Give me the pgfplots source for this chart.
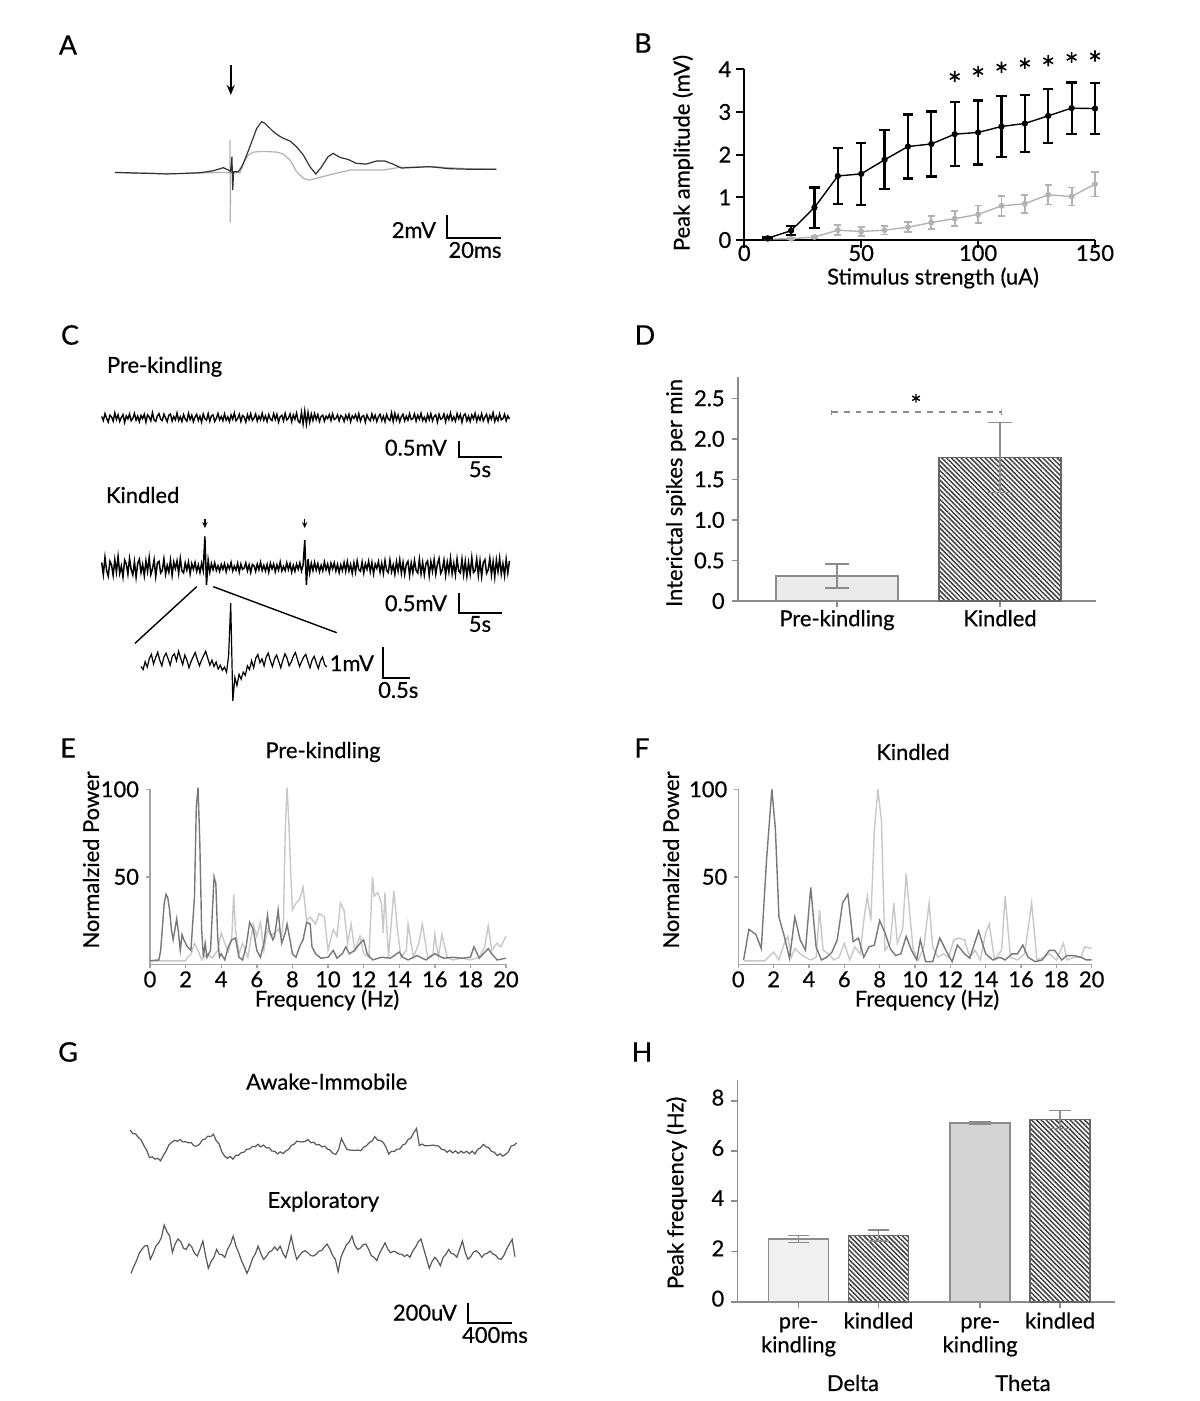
\documentclass[border=0pt]{standalone}
\usepackage{fontspec}
\setmainfont{Lato}[FakeBold=0.6]
\usepackage{pgfplots}
\pgfplotsset{compat=1.18}
\usetikzlibrary{patterns.meta,arrows.meta}
\newcommand\lab{\fontsize{11}{12}\selectfont}
\newcommand\letfont{\fontsize{13.5}{14}\selectfont}
\definecolor{specdark}{HTML}{787878}
\definecolor{speclight}{HTML}{C8C8C8}
\definecolor{axgray}{HTML}{8C8C8C}
\pgfplotsset{
  base/.style={scale only axis, anchor=south west, clip=false,
    /pgf/number format/assume math mode=true,
    tick label style={font=\lab}, enlargelimits=false},
  trace/.style={base, hide axis},
  framed/.style={base, axis x line=bottom, axis y line=left, axis line style={-}, tick align=outside},
}
\begin{document}
\begin{tikzpicture}
\useasboundingbox (0,0) rectangle (600bp,-700.5bp);

% ---------------- A ----------------
\begin{axis}[trace, at={(56.65bp,-121.3bp)}, width=194.1bp, height=64.075bp,
  xmin=-43, xmax=100, ymin=-6, ymax=5]
\addplot[gray!60, line width=0.6bp] coordinates {
(-42.4,0.0) (-30,-0.05) (-20,-0.08) (-10,-0.02) (-2,0.03) (0,0.0) (0,2.8) (0.1,-4.29) (0.2,0.0)
(3.7,0) (5.16,0.94) (6.76,1.52) (8.6,1.77) (12.3,1.83) (17.2,1.77) (19.6,1.6) (22.1,1.09)
(24.5,0.09) (27.0,-0.49) (29.4,-0.63) (33.1,-0.4) (38.0,-0.11) (44.2,0.23) (50.2,0.23)
(56.4,0.23) (62.5,0.46) (74.8,0.52) (87.1,0.34) (98.1,0.29)};
\addplot[black!80, line width=0.6bp] coordinates {
(-42.4,0.03) (-36,-0.02) (-29.5,-0.06) (-23.4,-0.11) (-17,-0.06) (-11.05,0) (-6.1,0.17)
(-2.46,0.43) (-0.6,0.23) (0.2,0.1) (0.7,1.37) (1.0,-1.49) (1.3,0.09) (3.07,0.09) (4.3,0.5)
(5.16,0.94) (6.14,1.52) (8.0,2.66) (9.82,3.8) (11.67,4.38) (12.9,4.23) (14.3,3.9) (15.96,3.52)
(17.8,3.2) (19.6,2.95) (22.1,2.72) (24.5,2.23) (27.0,1.52) (29.4,0.52) (31.6,-0.11) (33.6,0.46)
(36.1,1.37) (38.0,1.66) (40.4,1.32) (43.5,1.14) (46.5,0.8) (50.2,0.74) (53.9,1.0) (57.0,1.0)
(60.0,0.74) (63.1,0.4) (68.6,0.46) (73.5,0.52) (80.9,0.34) (89.5,0.29) (98.1,0.29)};
\addplot[black, line width=0.9bp] coordinates {(79.8,-3.63) (79.8,-5.63) (99.8,-5.63)};
\draw[-{Stealth[length=5bp,width=4bp]}, line width=0.9bp] (axis cs:0.27,9.24) -- (axis cs:0.27,6.67);
\end{axis}

% ---------------- B ----------------
\begin{axis}[framed, at={(372.15bp,-120bp)}, width=175.35bp, height=85.35bp,
  xmin=0, xmax=150, ymin=0, ymax=4, xtick={0,50,100,150}, ytick={0,1,2,3,4},
  axis line style={line width=1bp, black}, major tick length=4bp,
  tick style={black, line width=1bp}, xticklabel style={yshift=5bp}, yticklabel style={xshift=1bp}]
\addplot[gray!60, line width=0.7bp, mark=*, mark size=1.1bp,
  error bars/.cd, y dir=both, y explicit, error bar style={line width=0.9bp},
  error mark options={rotate=90, line width=0.9bp, mark size=1.8bp}] coordinates {
(10,0.02) +- (0,0.01) (20,0.03) +- (0,0.02) (30,0.07) +- (0,0.03) (40,0.23) +- (0,0.12)
(50,0.2) +- (0,0.1) (60,0.23) +- (0,0.1) (70,0.3) +- (0,0.12) (80,0.41) +- (0,0.15)
(90,0.5) +- (0,0.18) (100,0.6) +- (0,0.21) (110,0.8) +- (0,0.23) (120,0.85) +- (0,0.21)
(130,1.06) +- (0,0.23) (140,1.02) +- (0,0.21) (150,1.31) +- (0,0.29)};
\addplot[black, line width=0.7bp, mark=*, mark size=1.2bp,
  error bars/.cd, y dir=both, y explicit, error bar style={line width=1.1bp},
  error mark options={rotate=90, line width=1.1bp, mark size=2.6bp}] coordinates {
(10,0.04) +- (0,0.03) (20,0.22) +- (0,0.11) (30,0.76) +- (0,0.47) (40,1.5) +- (0,0.65)
(50,1.55) +- (0,0.73) (60,1.88) +- (0,0.69) (70,2.19) +- (0,0.75) (80,2.25) +- (0,0.76)
(90,2.48) +- (0,0.75) (100,2.52) +- (0,0.75) (110,2.66) +- (0,0.71) (120,2.73) +- (0,0.67)
(130,2.91) +- (0,0.63) (140,3.09) +- (0,0.6) (150,3.08) +- (0,0.59)};
\addplot[only marks, mark=asterisk, mark size=2.8bp, black, line width=0.8bp] coordinates {
(90,3.83) (100,3.95) (110,4.05) (120,4.14) (130,4.2) (140,4.28) (150,4.31)};
\end{axis}

% ---------------- C ----------------
\begin{axis}[trace, at={(50.85bp,-229.2bp)}, width=204.7bp, height=25.04bp,
  xmin=0, xmax=48, ymin=-130, ymax=30]
\addplot[black, line width=0.7bp] table[row sep=\\, x expr=\coordindex*0.192, y index=0] {v\\
4\\-9\\13\\-2\\-14\\8\\3\\-11\\15\\-6\\9\\-12\\1\\10\\-15\\6\\-4\\12\\-10\\-2\\14\\-8\\5\\-13\\7\\
-3\\11\\-14\\9\\2\\-10\\16\\-7\\-12\\6\\13\\-5\\-9\\11\\-1\\-13\\8\\12\\-11\\4\\-7\\15\\-9\\3\\-12\\
10\\-4\\-11\\14\\-6\\8\\-13\\2\\11\\-9\\5\\-14\\12\\-3\\-8\\13\\-11\\6\\9\\-12\\-2\\14\\-7\\4\\-10\\
12\\-8\\3\\-13\\9\\-5\\15\\-10\\-3\\11\\-12\\7\\2\\-14\\10\\-6\\13\\-9\\-1\\12\\-11\\5\\-7\\14\\-8\\
6\\-12\\10\\-4\\-9\\13\\-6\\11\\-14\\3\\8\\-10\\14\\-7\\-2\\12\\-13\\9\\-5\\15\\-11\\-16\\18\\-20\\22\\
-21\\17\\-15\\12\\-9\\13\\-6\\10\\-12\\4\\8\\-11\\5\\-3\\10\\-9\\12\\-6\\-2\\9\\-10\\7\\3\\-12\\8\\
-5\\11\\-13\\6\\-2\\10\\-8\\13\\-11\\4\\7\\-14\\9\\-3\\-10\\12\\-6\\8\\-12\\3\\11\\-9\\5\\-13\\10\\
-4\\-9\\16\\-12\\14\\-7\\9\\-13\\3\\11\\-10\\5\\-8\\13\\-6\\-3\\12\\-11\\8\\-5\\14\\-9\\2\\-12\\10\\
-7\\13\\-10\\4\\9\\-14\\11\\-5\\-2\\12\\-13\\8\\-6\\15\\-9\\3\\-11\\13\\-4\\10\\-15\\7\\12\\-10\\5\\
-12\\9\\-4\\14\\-11\\6\\-8\\13\\-10\\2\\11\\-13\\7\\-5\\16\\-12\\4\\-9\\12\\-7\\-3\\11\\-10\\6\\-4\\};
\addplot[black, line width=0.9bp] coordinates {(41.9,-74.4) (41.9,-124.4) (46.9,-124.4)};
\end{axis}

\begin{axis}[trace, at={(50.85bp,-307.65bp)}, width=204.7bp, height=42bp,
  xmin=0, xmax=48, ymin=-120, ymax=90]
\addplot[black, line width=0.75bp] table[row sep=\\, x expr=\coordindex*0.192, y index=0] {v\\
12\\-18\\25\\-8\\-22\\15\\6\\-20\\19\\-12\\27\\-15\\3\\-24\\18\\9\\-17\\22\\-6\\-19\\14\\-25\\10\\20\\-13\\
7\\-21\\16\\-10\\24\\-18\\-4\\19\\-23\\11\\15\\-14\\-8\\21\\-17\\5\\-12\\18\\-20\\13\\-3\\16\\-15\\22\\-9\\
-14\\11\\-7\\13\\-16\\9\\-5\\12\\-10\\6\\-13\\10\\-8\\77\\-44\\18\\-12\\9\\-6\\11\\-8\\4\\-10\\7\\-5\\
9\\-11\\6\\-4\\12\\-9\\3\\-7\\10\\-12\\8\\-5\\-2\\11\\-9\\6\\-13\\7\\4\\-10\\8\\-6\\12\\-8\\5\\
-9\\7\\-12\\10\\-4\\8\\-11\\6\\-7\\13\\-9\\2\\-8\\11\\-6\\9\\-12\\5\\-10\\8\\-5\\11\\-9\\6\\68\\
-44\\20\\-14\\10\\-8\\12\\-7\\9\\-11\\5\\-9\\13\\-6\\8\\-12\\10\\-4\\11\\-9\\7\\-13\\6\\-8\\12\\-10\\
14\\-9\\7\\-15\\11\\-12\\16\\-6\\-10\\13\\-14\\9\\-5\\15\\-11\\12\\-16\\8\\-3\\14\\-12\\10\\-15\\17\\-8\\
-13\\18\\-11\\6\\-17\\14\\-9\\19\\-15\\12\\-18\\7\\15\\-20\\11\\-13\\17\\-8\\-14\\20\\-16\\12\\-19\\9\\16\\
-21\\14\\-10\\19\\-17\\8\\22\\-15\\-6\\18\\-20\\13\\-12\\23\\-16\\10\\-19\\21\\-9\\-14\\20\\-18\\15\\-22\\12\\
-17\\24\\-13\\-8\\21\\-20\\16\\-23\\11\\19\\-15\\-6\\22\\-19\\14\\-24\\18\\-11\\23\\-17\\9\\-21\\20\\-14\\16\\};
\addplot[black, line width=0.9bp] coordinates {(41.9,-65) (41.9,-115) (46.9,-115)};
\draw[-{Stealth[length=3bp,width=2.6bp]}, line width=0.6bp] (axis cs:12.1,120) -- (axis cs:12.1,98);
\draw[-{Stealth[length=3bp,width=2.6bp]}, line width=0.6bp] (axis cs:23.8,120) -- (axis cs:23.8,98);
\end{axis}

\begin{axis}[trace, at={(70.5bp,-352.25bp)}, width=135.9bp, height=52.3bp,
  xmin=0, xmax=5.1, ymin=-130, ymax=200]
\addplot[black, line width=0.6bp] table[row sep=\\, x expr=\coordindex*0.03915, y index=0] {v\\
-10\\-20\\5\\-12\\15\\28\\-2\\18\\35\\10\\
-8\\20\\32\\14\\-6\\22\\30\\8\\38\\16\\
-4\\26\\10\\-14\\6\\20\\34\\12\\-8\\10\\
24\\38\\16\\-6\\10\\-10\\4\\-18\\-6\\-22\\
-12\\-28\\25\\190\\-119\\-45\\-70\\-35\\
-50\\-28\\-38\\-8\\-20\\8\\-14\\16\\28\\2\\14\\-8\\
20\\32\\8\\-10\\14\\26\\6\\-14\\10\\30\\
16\\-8\\4\\22\\34\\12\\-10\\6\\20\\28\\
6\\-14\\10\\22\\2\\-16\\8\\20\\-4\\-12\\};
\addplot[black, line width=0.9bp] coordinates {(4.546,52.4) (4.546,-47.3) (5.046,-47.3)};
\end{axis}

% ---------------- D ----------------
\begin{axis}[framed, at={(368.85bp,-300.5bp)}, width=179.15bp, height=111.85bp,
  xmin=0.391, xmax=2.589, ymin=0, ymax=2.759, xtick={1,2}, xticklabels={Pre-kindling,Kindled},
  ytick={0,0.5,1,1.5,2,2.5}, yticklabels={0,0.5,1.0,1.5,2.0,2.5},
  axis line style={axgray, line width=0.8bp}, tick style={axgray, line width=0.8bp},
  major tick length=3bp, xticklabel style={yshift=2bp}]
\addplot[ybar, bar width=0.748, bar shift=0pt, draw=axgray, fill=black!8, line width=0.8bp,
  error bars/.cd, y dir=both, y explicit, error bar style={axgray, line width=0.8bp},
  error mark options={rotate=90, axgray, line width=0.8bp, mark size=6bp}] coordinates {(1,0.31) +- (0,0.15)};
\addplot[ybar, bar width=0.748, bar shift=0pt, draw=black!60, line width=0.8bp,
  pattern={Lines[angle=-45,distance=1.7bp,line width=0.75bp]}, pattern color=black!75,
  error bars/.cd, y dir=both, y explicit, error bar style={axgray, line width=0.8bp},
  error mark options={rotate=90, axgray, line width=0.8bp, mark size=5.8bp}] coordinates {(2,1.77) +- (0,0.43)};
\draw[axgray, dashed, line width=0.7bp] (axis cs:0.967,2.33) -- (axis cs:2.01,2.33);
\draw[axgray, line width=0.7bp] (axis cs:0.967,2.30) -- (axis cs:0.967,2.36);
\draw[axgray, line width=0.7bp] (axis cs:2.01,2.30) -- (axis cs:2.01,2.36);
\addplot[only marks, mark=asterisk, mark size=2.2bp, black, line width=0.7bp] coordinates {(1.485,2.5)};
\end{axis}

% ---------------- E ----------------
\begin{axis}[framed, at={(75bp,-482.15bp)}, width=178bp, height=87.5bp,
  xmin=0, xmax=20, ymin=0, ymax=100, xtick={0,2,...,20}, ytick={50,100},
  axis line style={gray!70, line width=0.7bp}, tick style={gray!70, line width=0.7bp},
  major tick length=2bp, xticklabel style={yshift=2bp}]
\addplot[speclight, line width=0.7bp] coordinates {
(0,2)(1,2)(2.0,2)(2.1,4)(2.3,5.5)(2.5,12)(2.7,8)(2.9,2.5)(3.2,6)(3.5,3.5)(3.8,8)(4.0,18)(4.2,12)
(4.4,7)(4.6,16)(4.7,40)(4.8,20)(5.0,6)(5.2,12)(5.5,4)(5.8,23)(6.0,16)(6.2,24)(6.4,8)(6.6,20)
(6.8,16)(7.0,18)(7.2,20)(7.4,16)(7.5,27)(7.6,77)(7.7,101)(7.8,81)(7.9,54)(8.0,31)(8.2,35)
(8.4,37)(8.6,44)(8.8,25)(9.0,27)(9.3,23)(9.5,29)(9.8,27)(10.0,8)(10.3,20)(10.5,16)(10.7,35)
(10.9,31)(11.1,12)(11.3,23)(11.5,8)(11.8,16)(12.0,6)(12.3,4)(12.5,50)(12.6,39)(12.8,41)
(13.0,35)(13.1,18)(13.2,41)(13.4,4)(13.7,42)(13.9,20)(14.1,4)(14.4,8)(14.5,23)(14.8,4)
(15.1,12)(15.3,23)(15.6,4)(15.9,6)(16.0,17)(16.2,4)(16.4,17)(16.7,4)(17.0,2.5)(17.5,3.5)
(18.0,2.5)(18.5,4)(18.8,10)(19.0,22)(19.2,8)(19.5,12)(19.7,10)(20.0,16)};
\addplot[specdark, line width=0.7bp] coordinates {
(0,2)(0.5,2.5)(0.6,8)(0.8,35)(0.9,40)(1.0,38)(1.1,31)(1.2,20)(1.3,14)(1.5,26)(1.6,18)(1.7,8)
(1.8,17)(1.9,14)(2.1,10)(2.3,8)(2.5,39)(2.6,90)(2.7,101)(2.8,69)(2.9,20)(3.0,4)(3.1,12)(3.2,4)
(3.4,8)(3.6,50)(3.7,46)(3.8,16)(3.9,4)(4.0,6)(4.2,2.5)(4.4,10)(4.6,14)(4.8,15)(5.0,4)(5.2,2.5)
(5.4,10)(5.6,24)(5.8,20)(6.0,8)(6.2,4)(6.4,12)(6.6,28)(6.7,20)(6.9,14)(7.0,16)(7.2,31)(7.3,20)
(7.4,12)(7.6,18)(7.7,23)(7.9,12)(8.0,6)(8.2,4)(8.4,10)(8.6,14)(8.8,24)(9.0,23)(9.1,10)(9.3,6)
(9.6,3.5)(10.0,4)(10.3,8)(10.5,3.5)(10.8,6)(11.0,10)(11.2,6)(11.5,8)(11.8,12)(12.0,14)(12.2,6)
(12.5,2.5)(13.0,4)(13.5,3.5)(14.0,7)(14.2,4)(14.5,2.5)(15.0,5)(15.5,2.5)(16.0,6)(16.5,3.5)
(17.0,4)(17.5,3.5)(18.0,4)(18.2,10)(18.5,3.5)(19.0,9)(19.2,6)(19.5,2.5)(20.0,3.5)};
\end{axis}

% ---------------- F ----------------
\begin{axis}[framed, at={(369.15bp,-482.15bp)}, width=176.7bp, height=87.5bp,
  xmin=0, xmax=20, ymin=0, ymax=100, xtick={0,2,...,20}, ytick={50,100},
  axis line style={gray!70, line width=0.7bp}, tick style={gray!70, line width=0.7bp},
  major tick length=2bp, xticklabel style={yshift=2bp}]
\addplot[speclight, line width=0.7bp] coordinates {
(0.3,2)(1.5,2)(1.7,4)(2.0,7)(2.3,2.5)(2.6,12)(2.8,16)(3.0,4)(3.2,9)(3.5,6)(3.8,4)(4.1,2.5)
(4.4,4)(4.6,31)(4.8,8)(5.1,6)(5.4,2.5)(5.7,4)(6.0,12)(6.3,2.5)(6.6,10)(6.9,6)(7.1,25)(7.3,39)
(7.5,25)(7.7,77)(7.9,100)(8.1,82)(8.3,8)(8.6,12)(8.8,35)(9.0,12)(9.3,20)(9.5,52)(9.7,29)
(9.9,8)(10.2,2.5)(10.5,10)(10.8,35)(11.0,10)(11.3,4)(11.6,6)(11.9,4)(12.2,14)(12.5,15)
(12.8,14)(13.1,4)(13.4,8)(13.7,2.5)(14.0,18)(14.2,23)(14.5,2.5)(14.9,8)(15.1,39)(15.4,4)
(15.8,2.5)(16.2,6)(16.6,35)(16.9,2.5)(17.3,4)(17.6,6)(18.0,2.5)(18.4,12)(18.6,2.5)(19.0,4)
(19.4,4)(19.6,10)(20.0,9)};
\addplot[specdark, line width=0.7bp] coordinates {
(0.3,2.5)(0.6,20)(1.0,17)(1.3,9)(1.6,60)(1.9,100)(2.1,77)(2.3,27)(2.6,16)(2.9,3.5)(3.2,27)
(3.5,14)(3.8,8)(4.1,44)(4.4,10)(4.7,2.5)(5.0,4)(5.3,7)(5.6,14)(5.9,35)(6.2,40)(6.5,13)(6.8,15)
(7.1,4)(7.4,10)(7.7,11)(8.0,25)(8.3,18)(8.6,9)(8.9,5)(9.2,6)(9.5,16)(9.8,8)(10.1,2.5)(10.3,14)
(10.6,1.5)(11.0,1.5)(11.4,15)(11.8,7)(12.1,1.5)(12.4,11)(12.8,6)(13.1,3.5)(13.6,19)(14.0,6)
(14.4,2.5)(14.8,4)(15.1,2.5)(15.5,6)(15.8,6)(16.1,11)(16.4,4)(16.8,1.5)(17.2,2.5)(17.6,8)
(17.9,8)(18.3,2.5)(18.6,5)(19.0,5)(19.4,4)(19.7,2.5)(20.0,2.5)};
\end{axis}

% ---------------- G ----------------
\begin{axis}[trace, at={(65bp,-588.875bp)}, width=198bp, height=31.05bp,
  xmin=0, xmax=3.6, ymin=-300, ymax=300]
\addplot[black!65, line width=0.6bp] table[row sep=\\, x expr=\coordindex*0.02529, y index=0] {v\\
161\\128\\124\\90\\66\\10\\-34\\-104\\-98\\-120\\
-112\\-136\\-84\\-40\\18\\42\\62\\52\\70\\46\\
48\\38\\40\\8\\6\\24\\66\\74\\102\\98\\
120\\58\\28\\-48\\-90\\-112\\-94\\-120\\-84\\-82\\
-58\\-52\\-24\\-22\\2\\0\\24\\-2\\16\\-12\\
-10\\-42\\-44\\-70\\-50\\-66\\-42\\-26\\12\\24\\
54\\48\\46\\52\\70\\38\\44\\18\\22\\-2\\
6\\-22\\-34\\-66\\-74\\-26\\80\\24\\-26\\-32\\
-34\\-36\\-32\\-38\\-4\\10\\38\\54\\97\\64\\
60\\42\\-4\\-70\\-44\\-46\\-24\\-22\\16\\28\\
70\\84\\136\\177\\12\\26\\10\\10\\12\\16\\
10\\6\\-26\\-30\\-54\\-34\\-60\\-40\\-66\\-42\\
-60\\-44\\-68\\-42\\-70\\-24\\-11\\22\\-1\\-10\\
-46\\-54\\-86\\-69\\-91\\-74\\-51\\6\\14\\38\\};
\end{axis}

\begin{axis}[trace, at={(65.5bp,-667.25bp)}, width=198bp, height=62.1bp,
  xmin=0, xmax=3.6, ymin=-800, ymax=400]
\addplot[black!65, line width=0.6bp] table[row sep=\\, x expr=\coordindex*0.02511, y index=0] {v\\
-209\\-144\\-86\\-14\\26\\56\\58\\-74\\-16\\54\\
84\\135\\258\\194\\151\\-6\\76\\123\\96\\34\\
22\\74\\46\\-16\\-42\\24\\103\\-36\\-161\\-94\\
-54\\22\\-26\\-29\\-54\\26\\74\\151\\54\\-10\\
-86\\-144\\-209\\-146\\-64\\-22\\54\\-16\\-74\\-46\\
-4\\10\\46\\14\\54\\-16\\-58\\34\\151\\24\\
-74\\-36\\-4\\10\\-9\\-36\\-42\\-26\\6\\10\\
46\\74\\26\\-36\\-74\\-193\\-54\\10\\66\\94\\
151\\64\\22\\34\\66\\74\\26\\-38\\-54\\-86\\
-14\\34\\86\\24\\-10\\4\\-4\\-22\\-24\\-46\\
-29\\-54\\6\\44\\96\\123\\26\\-66\\-161\\-94\\
-54\\-84\\-135\\-54\\-26\\22\\-16\\-24\\-54\\26\\
103\\-6\\-74\\-46\\-4\\10\\-14\\-54\\-24\\-16\\
6\\-22\\-34\\-66\\-74\\-36\\26\\74\\119\\-48\\};
\addplot[black, line width=0.9bp] coordinates {(3.061,-492.8) (3.061,-691.8) (3.461,-691.8)};
\end{axis}

% ---------------- H ----------------
\begin{axis}[framed, at={(368.65bp,-650.85bp)}, width=188.85bp, height=110.8bp,
  xmin=0.235, xmax=4.956, ymin=0, ymax=8.82, xtick={1,2,3.27,4.27},
  xticklabels={{pre-\\kindling},{kindled},{pre-\\kindling},{kindled}},
  xticklabel style={align=center, yshift=1.5bp}, typeset ticklabels with strut,
  ytick={0,2,4,6,8},
  axis line style={axgray, line width=0.8bp}, tick style={axgray, line width=0.8bp},
  major tick length=3bp]
\addplot[ybar, bar width=0.75, bar shift=0pt, draw=axgray, fill=black!6, line width=0.8bp,
  error bars/.cd, y dir=both, y explicit, error bar style={axgray, line width=0.8bp},
  error mark options={rotate=90, axgray, line width=0.8bp, mark size=5.4bp}] coordinates {(1,2.49) +- (0,0.14)};
\addplot[ybar, bar width=0.75, bar shift=0pt, draw=black!60, line width=0.8bp,
  pattern={Lines[angle=-45,distance=1.7bp,line width=0.75bp]}, pattern color=black!75,
  error bars/.cd, y dir=both, y explicit, error bar style={axgray, line width=0.8bp},
  error mark options={rotate=90, axgray, line width=0.8bp, mark size=5.4bp}] coordinates {(2,2.64) +- (0,0.22)};
\addplot[ybar, bar width=0.75, bar shift=0pt, draw=axgray, fill=black!17, line width=0.8bp,
  error bars/.cd, y dir=both, y explicit, error bar style={axgray, line width=0.8bp},
  error mark options={rotate=90, axgray, line width=0.8bp, mark size=5.4bp}] coordinates {(3.27,7.12) +- (0,0.04)};
\addplot[ybar, bar width=0.75, bar shift=0pt, draw=black!60, line width=0.8bp,
  pattern={Lines[angle=-45,distance=1.7bp,line width=0.75bp]}, pattern color=black!75,
  error bars/.cd, y dir=both, y explicit, error bar style={axgray, line width=0.8bp},
  error mark options={rotate=90, axgray, line width=0.8bp, mark size=5.4bp}] coordinates {(4.27,7.25) +- (0,0.36)};
\end{axis}

% ---------------- text ----------------
\begin{scope}[x=0.5bp, y=-0.5bp, font=\lab]
\node[font=\letfont] at (68,45) {A};
\node[font=\letfont] at (643,43) {B};
\node[font=\letfont] at (70,335) {C};
\node[font=\letfont] at (645,335) {D};
\node[font=\letfont] at (68,748) {E};
\node[font=\letfont] at (642,748) {F};
\node[font=\letfont] at (68,1052) {G};
\node[font=\letfont] at (642,1052) {H};
% A
\node[anchor=east] at (443,230) {2mV};
\node at (475,250) {20ms};
% B
\node[rotate=90] at (683,153) {Peak amplitude (mV)};
\node at (933,278) {Stimulus strength (uA)};
% C
\node[anchor=west] at (100,366.7) {Pre-kindling};
\node[anchor=east] at (454,447.7) {0.5mV};
\node at (480,469.3) {5s};
\node[anchor=west] at (99,495) {Kindled};
\node[anchor=east] at (454,603.3) {0.5mV};
\node at (480,624) {5s};
\node[anchor=east] at (381,663.3) {1mV};
\node at (398.3,690) {0.5s};
\draw[black, line width=0.7bp] (196.7,586.7) -- (135,643.3);
\draw[black, line width=0.7bp] (213.3,586.7) -- (336.7,632.7);
% D
\node[rotate=90] at (676,493) {Interictal spikes per min};
% E F
\node at (323,752) {Pre-kindling};
\node[rotate=90] at (91,860) {Normalzied Power};
\node at (327,1000) {Frequency (Hz)};
\node at (913,752) {Kindled};
\node[rotate=90] at (671,860) {Normalzied Power};
\node at (927,1000) {Frequency (Hz)};
% G
\node at (326.7,1081.7) {Awake-Immobile};
\node at (323.3,1201.7) {Exploratory};
\node[anchor=east] at (464,1312.7) {200uV};
\node at (495,1335) {400ms};
% H
\node[rotate=90] at (676.7,1193) {Peak frequency (Hz)};
\node at (853,1383) {Delta};
\node at (1023,1383) {Theta};
\end{scope}
\end{tikzpicture}
\end{document}
